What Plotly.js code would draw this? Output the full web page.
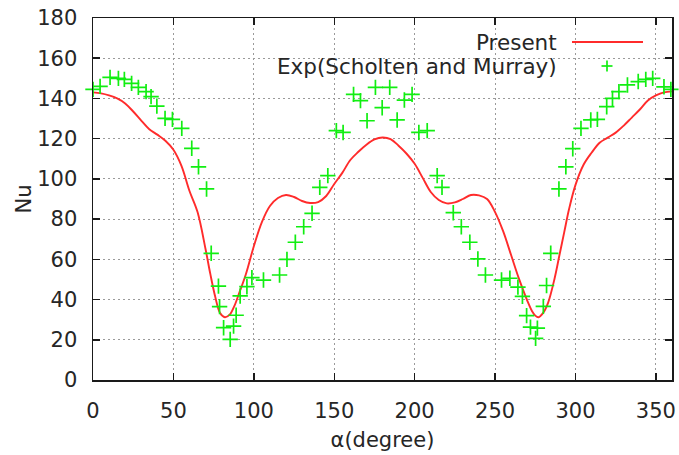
<!DOCTYPE html>
<html>
<head>
<meta charset="utf-8">
<script src="https://cdn.plot.ly/plotly-3.0.1.min.js"></script>
<style>
html,body{margin:0;padding:0;background:#fff;}
#chart{width:679px;height:455px;}
</style>
</head>
<body>
<div id="chart"></div>
<script>
// Present (simulation) curve
const presentAlpha = [0,5,10,15,20,25,30,35,40,45,50,55,60,65,70,73,76,79,82,85,88,91,95,
  100,105,110,115,120,125,130,135,140,145,150,155,160,165,170,175,180,
  185,190,195,200,205,210,215,220,225,230,235,240,245,250,255,260,265,270,
  273,275,277,280,283,287,290,293,296,300,305,310,315,320,325,330,335,340,345,350,355,360];
const presentNu = [143,142.5,141.5,140,137.5,133.5,129,124.7,122,119,114.5,106.5,94,83.5,65,52.5,41.4,33.3,31.2,32.5,37,43.5,52.5,
  66.5,78.5,86.5,90.5,92,91,89,88,88.5,91.5,97.5,103,109.4,113.5,117,119.6,120.6,
  119.8,116.5,112.5,107.5,100.5,93.5,89.5,87.8,88.3,90,92,91.8,90,83.5,74,62,50,39.5,
  34.2,32,31.2,33.5,38.5,50.5,62,73.5,85,97,107,113,118,120.5,123,126.5,130.5,134.5,139,141.5,143,143.5];

// Experimental data (Scholten and Murray)
const expAlpha = [0,4.4,10.6,15.8,19.5,24,28.2,33,36.1,39.7,44.8,49.4,55.2,61.4,65.6,70.6,
  73.5,78,78.7,81.2,85.3,87.4,89,91.5,95.7,98.8,106,116,120.6,125.8,131,136.2,141,146,
  151.3,155.5,162,166.3,170.4,175.6,179.8,184.5,189.1,193.6,198.4,202.6,207.8,214,217,
  224,229,234.3,239.3,244,254,259.2,264.2,267,269.6,272,275.2,276.3,280,282,284.6,
  289.7,294,298.3,303.4,309.5,313.6,319.4,323,327,332.3,339,343.7,348,355,359.3];
const expNu = [144.5,146,150.5,150,149.5,147.5,145.5,143.4,140.9,136.2,130.1,129.6,125.1,115.2,106,95,
  63,46.7,36.5,26,20.2,26.8,32.2,41.8,46.4,50.9,49.7,52.2,60,68.5,76.2,82.9,95.8,101.6,
  124,123.1,142,138.9,128.9,145.5,135.4,145.5,129.3,139.2,142,123.1,124,101.6,95.8,
  83.2,76.2,68.5,60.2,52.2,49.7,50.6,46.2,41.6,32,26.3,20.7,25.8,36.6,47,63,
  95,106,115,125.1,129.3,129.6,135.9,140,143.4,146.7,148.4,149.5,150,145.8,144.5];

const xTicks = [0,50,100,150,200,250,300,350];
const yTicks = [0,20,40,60,80,100,120,140,160,180];
const seriesNames = ['Present','Exp(Scholten and Murray)'];

const redCol = '#ff2b2b';
const greenCol = '#11ee11';
const txtCol = '#262626';
const fontFam = 'DejaVu Sans, Verdana, sans-serif';

const traces = [
  {x: presentAlpha, y: presentNu, type:'scatter', mode:'lines', name: seriesNames[0],
   line:{color: redCol, width:1.9, shape:'spline', smoothing:1}, showlegend:false, hoverinfo:'skip'},
  {x: expAlpha, y: expNu, type:'scatter', mode:'markers', name: seriesNames[1], cliponaxis:false,
   marker:{symbol:'cross-thin-open', size:11, color: greenCol, line:{color: greenCol, width:1.7}},
   showlegend:false, hoverinfo:'skip'}
];

// legend geometry in paper units (plot area 579 x 362 px)
const W = 579, H = 362;
const px = v => v / W, py = v => v / H;
const legTextX = px(466);
const row1 = 1 - py(24), row2 = 1 - py(48);
const plusX = px(514);

const axisCommon = {
  showline:true, linecolor:'#1a1a1a', linewidth:1.5, mirror:'ticks',
  ticks:'inside', ticklen:7, tickwidth:1.5, tickcolor:'#1a1a1a',
  showgrid:true, gridcolor:'#9a9a9a', gridwidth:1, griddash:'2px,3px',
  zeroline:false, tickfont:{family:fontFam, size:21, color:txtCol}
};

const layout = {
  width:679, height:455,
  paper_bgcolor:'#ffffff', plot_bgcolor:'#ffffff',
  margin:{l:93, r:7, t:18, b:75, pad:0},
  showlegend:false,
  font:{family:fontFam, size:21, color:txtCol},
  xaxis: Object.assign({}, axisCommon, {
    range:[0,360], tickmode:'array', tickvals:xTicks, ticktext:xTicks.map(String),
    ticklabelstandoff:11,
    title:{text:'α(degree)', font:{family:fontFam, size:21, color:txtCol}, standoff:10}
  }),
  yaxis: Object.assign({}, axisCommon, {
    range:[0,180], tickmode:'array', tickvals:yTicks, ticktext:yTicks.map(String),
    ticklabelstandoff:10,
    title:{text:'Nu', font:{family:fontFam, size:21, color:txtCol}, standoff:0}
  }),
  shapes:[
    // key box blanks the grid behind the legend (as gnuplot does)
    {type:'rect', xref:'paper', yref:'paper', x0:px(122), x1:1, y0:1-py(60), y1:1,
     fillcolor:'#ffffff', line:{width:0}, layer:'between'},
    // legend sample: red line
    {type:'line', xref:'paper', yref:'paper', x0:px(479), x1:px(550), y0:row1, y1:row1,
     line:{color:redCol, width:1.9}, layer:'above'},
    // legend sample: green plus
    {type:'line', xref:'paper', yref:'paper', x0:plusX-px(5.5), x1:plusX+px(5.5), y0:row2, y1:row2,
     line:{color:greenCol, width:1.7}, layer:'above'},
    {type:'line', xref:'paper', yref:'paper', x0:plusX, x1:plusX, y0:row2-py(5.5), y1:row2+py(5.5),
     line:{color:greenCol, width:1.7}, layer:'above'}
  ],
  annotations:[
    {xref:'paper', yref:'paper', x:legTextX, y:row1, xanchor:'right', yanchor:'middle',
     text:seriesNames[0], showarrow:false, font:{family:fontFam, size:21.5, color:txtCol}},
    {xref:'paper', yref:'paper', x:legTextX, y:row2, xanchor:'right', yanchor:'middle',
     text:seriesNames[1], showarrow:false, font:{family:fontFam, size:21.5, color:txtCol}}
  ]
};

Plotly.newPlot('chart', traces, layout, {staticPlot:true, displayModeBar:false});
</script>
</body>
</html>
